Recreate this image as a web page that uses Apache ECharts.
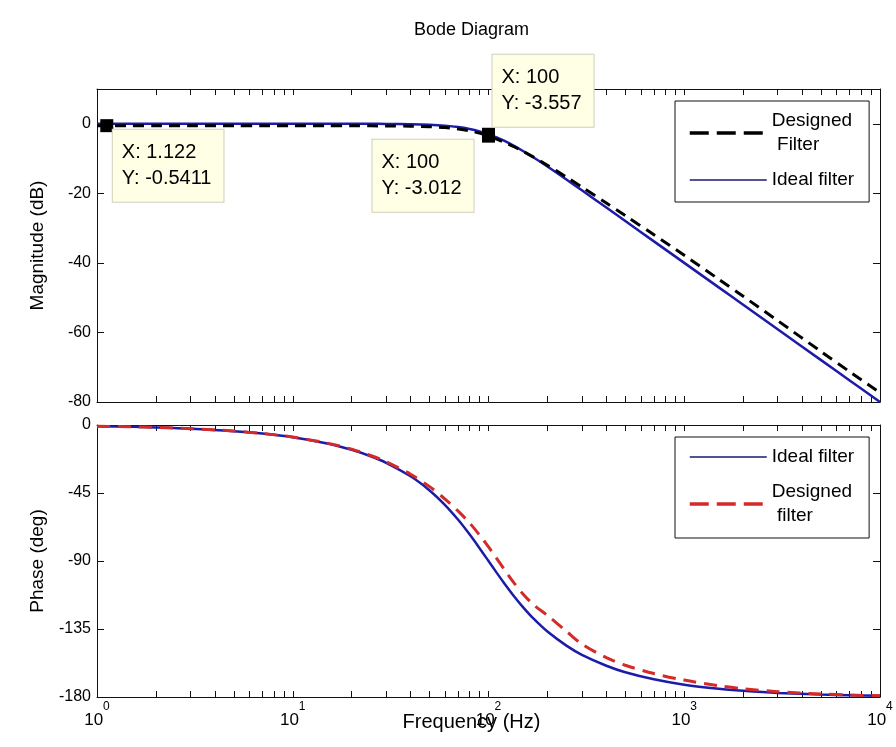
<!DOCTYPE html>
<html>
<head>
<meta charset="utf-8">
<title>Bode Diagram</title>
<script src="https://cdn.jsdelivr.net/npm/echarts@6/dist/echarts.min.js"></script>
<style>
html, body { margin: 0; padding: 0; background: #fff; }
#bode-chart { width: 896px; height: 747px; }
</style>
</head>
<body>
<div id="bode-chart"></div>
<script>
// frequency points (Hz) the curves were read at
const freq = [1, 1.5, 2, 3, 5, 7, 10, 15, 20, 25, 30, 40, 50, 60, 70, 80, 90, 100,
  110, 120, 135, 150, 170, 200, 250, 300, 400, 500, 700, 1000, 1500, 2000, 3000, 5000, 7000, 10000]

// magnitude (dB)
const magIdeal = [0, 0, 0, 0, 0, 0, 0, -0.002, -0.007, -0.017, -0.035, -0.11, -0.26, -0.53, -0.93, -1.49, -2.19, -3.01,
  -3.92, -4.87, -6.36, -7.83, -9.71, -12.3, -16.03, -19.14, -24.1, -27.96, -33.81, -40, -47.04, -52.04, -59.08, -67.96, -73.8, -80]
const magDesigned = [-0.54, -0.54, -0.54, -0.54, -0.55, -0.55, -0.56, -0.57, -0.58, -0.6, -0.62, -0.7, -0.85, -1.1, -1.5, -2.0, -2.7, -3.56,
  -4.4, -5.3, -6.6, -7.9, -9.6, -11.9, -15.3, -18.2, -22.8, -26.4, -31.9, -37.8, -44.7, -49.6, -56.6, -65.5, -71.3, -77.3]

// phase (deg)
const phaseIdeal = [-0.81, -1.22, -1.62, -2.43, -4.06, -5.69, -8.13, -12.24, -16.41, -20.67, -25.0, -33.96, -43.3, -52.97, -62.74, -72.35, -81.5, -90,
  -97.7, -104.5, -113.3, -120.5, -128.2, -136.7, -146.0, -152.1, -159.3, -163.6, -168.3, -171.9, -174.6, -175.9, -177.3, -178.4, -178.8, -179.2]
const phaseDesigned = [-0.8, -1.2, -1.6, -2.4, -4.0, -5.6, -8.0, -12.0, -16.0, -20.2, -24.3, -32.6, -40.8, -49.0, -57.0, -64.8, -72.8, -80.7,
  -88.3, -95.3, -104.5, -111.8, -119.0, -126.0, -136.5, -145.0, -154.0, -159.0, -164.5, -168.8, -172.5, -174.5, -176.5, -178.0, -178.7, -179.2]

// ticks
const freqTicks = [1, 2, 3, 4, 5, 6, 7, 8, 9, 10, 20, 30, 40, 50, 60, 70, 80, 90, 100,
  200, 300, 400, 500, 600, 700, 800, 900, 1000, 2000, 3000, 4000, 5000, 6000, 7000, 8000, 9000, 10000]
const freqLabels = [1, 10, 100, 1000, 10000]
const magTicks = [-80, -60, -40, -20, 0]
const phaseTicks = [-180, -135, -90, -45, 0]

// data cursors
const tipX = [1.122, 100, 100]
const tipY = [-0.5411, -3.012, -3.557]

const FONT = 'Liberation Sans'
const AXIS_COLOR = '#111'
const BLUE = '#1c1ca8'
const RED = '#d42a2a'

function pairs(ys) {
  return freq.map((f, i) => [f, ys[i]])
}

function freqAxis(gridIndex, position, showLabels) {
  return {
    type: 'log',
    logBase: 10,
    min: 1,
    max: 10000,
    gridIndex: gridIndex,
    position: position,
    axisLine: { onZero: false, lineStyle: { color: AXIS_COLOR, width: 1 } },
    axisTick: { inside: true, length: 6, customValues: freqTicks, lineStyle: { color: AXIS_COLOR } },
    splitLine: { show: false },
    axisLabel: showLabels ? {
      customValues: freqLabels,
      margin: 4,
      color: '#000',
      formatter: v => '{b|10}{s|' + Math.round(Math.log10(v)) + '}',
      rich: {
        b: { fontSize: 17, fontFamily: FONT, color: '#000', verticalAlign: 'bottom', lineHeight: 28 },
        s: { fontSize: 12, fontFamily: FONT, color: '#000', verticalAlign: 'top', lineHeight: 28 },
      },
    } : { show: false },
    name: showLabels ? 'Frequency (Hz)' : '',
    nameLocation: 'middle',
    nameGap: 15,
    nameMoveOverlap: false,
    nameTextStyle: { fontSize: 20, fontFamily: FONT, color: '#000', padding: [0, 34, 0, 0] },
  }
}

function valueAxis(gridIndex, position, min, max, ticks, name) {
  return {
    type: 'value',
    gridIndex: gridIndex,
    position: position,
    min: min,
    max: max,
    axisLine: { show: true, onZero: false, lineStyle: { color: AXIS_COLOR, width: 1 } },
    axisTick: { show: true, inside: true, length: 7, customValues: ticks, lineStyle: { color: AXIS_COLOR } },
    splitLine: { show: false },
    axisLabel: name ? {
      customValues: ticks,
      margin: 6,
      fontSize: 16,
      fontFamily: FONT,
      color: '#000',
    } : { show: false },
    name: name || '',
    nameLocation: 'middle',
    nameGap: 50,
    nameMoveOverlap: false,
    nameTextStyle: { fontSize: 19, fontFamily: FONT, color: '#000' },
  }
}

const tipLabelPos = [[12.5, 10.5], [-109.5, 12], [10.5, -75]]

const myChart = echarts.init(document.getElementById('bode-chart'), null, { renderer: 'canvas' })

const legendBase = {
  orient: 'vertical',
  left: 675,
  itemWidth: 77,
  itemHeight: 14,
  itemGap: 11,
  padding: [8, 15, 10, 13],
  borderColor: AXIS_COLOR,
  borderWidth: 1,
  backgroundColor: '#fff',
  selectedMode: false,
  itemStyle: { color: 'rgba(0,0,0,0)', borderWidth: 0, opacity: 0 },
  textStyle: { fontSize: 19, lineHeight: 24, fontFamily: FONT, color: '#000' },
}

const idealLegend = { name: 'Ideal filter', lineStyle: { width: 1.5, color: '#1a1a70' } }

const option = {
  animation: false,
  backgroundColor: '#fff',
  textStyle: { fontFamily: FONT },
  title: {
    text: 'Bode Diagram',
    left: 409,
    top: 16,
    textStyle: { fontSize: 18, fontWeight: 'normal', fontFamily: FONT, color: '#000' },
  },
  grid: [
    { left: 97, right: 16, top: 89, height: 313 },
    { left: 97, right: 16, top: 425, height: 272 },
  ],
  xAxis: [
    freqAxis(0, 'bottom', false),
    freqAxis(0, 'top', false),
    freqAxis(1, 'bottom', true),
    freqAxis(1, 'top', false),
  ],
  yAxis: [
    valueAxis(0, 'left', -80, 10, magTicks, 'Magnitude (dB)'),
    valueAxis(0, 'right', -80, 10, magTicks, ''),
    valueAxis(1, 'left', -180, 0, phaseTicks, 'Phase (deg)'),
    valueAxis(1, 'right', -180, 0, phaseTicks, ''),
  ],
  legend: [
    Object.assign({}, legendBase, {
      top: 101,
      data: [
        { name: 'Designed\n Filter', lineStyle: { width: 3.5, type: [19, 8] } },
        idealLegend,
      ],
    }),
    Object.assign({}, legendBase, {
      top: 437,
      data: [
        idealLegend,
        { name: 'Designed\n filter', lineStyle: { width: 3.5, type: [19, 8] } },
      ],
    }),
  ],
  series: [
    {
      name: 'Ideal filter',
      type: 'line',
      xAxisIndex: 0,
      yAxisIndex: 0,
      symbol: 'none',
      smooth: 0.3,
      lineStyle: { color: BLUE, width: 2.5 },
      itemStyle: { color: BLUE },
      data: pairs(magIdeal),
    },
    {
      name: 'Designed\n Filter',
      type: 'line',
      xAxisIndex: 0,
      yAxisIndex: 0,
      symbol: 'none',
      smooth: 0.3,
      lineStyle: { color: '#000', width: 3, type: [11, 7] },
      itemStyle: { color: '#000' },
      data: pairs(magDesigned),
      markPoint: {
        symbol: 'rect',
        symbolSize: 13,
        itemStyle: { color: '#000' },
        data: tipX.map((x, i) => ({
          coord: [x, tipY[i]],
          label: {
            show: true,
            position: tipLabelPos[i],
            align: 'left',
            verticalAlign: 'top',
            formatter: 'X: ' + x + '\nY: ' + tipY[i],
            fontSize: 20,
            lineHeight: 26,
            fontFamily: FONT,
            color: '#000',
            backgroundColor: '#ffffe6',
            borderColor: '#cfcfbc',
            borderWidth: 1,
            padding: [10, 12, 10, 9],
          },
        })),
      },
    },
    {
      name: 'Ideal filter',
      type: 'line',
      xAxisIndex: 2,
      yAxisIndex: 2,
      symbol: 'none',
      smooth: 0.3,
      lineStyle: { color: BLUE, width: 2.5 },
      itemStyle: { color: BLUE },
      data: pairs(phaseIdeal),
    },
    {
      name: 'Designed\n filter',
      type: 'line',
      xAxisIndex: 2,
      yAxisIndex: 2,
      symbol: 'none',
      smooth: 0.3,
      lineStyle: { color: RED, width: 3, type: [13, 8] },
      itemStyle: { color: RED },
      data: pairs(phaseDesigned),
    },
  ],
}

myChart.setOption(option)
</script>
</body>
</html>
